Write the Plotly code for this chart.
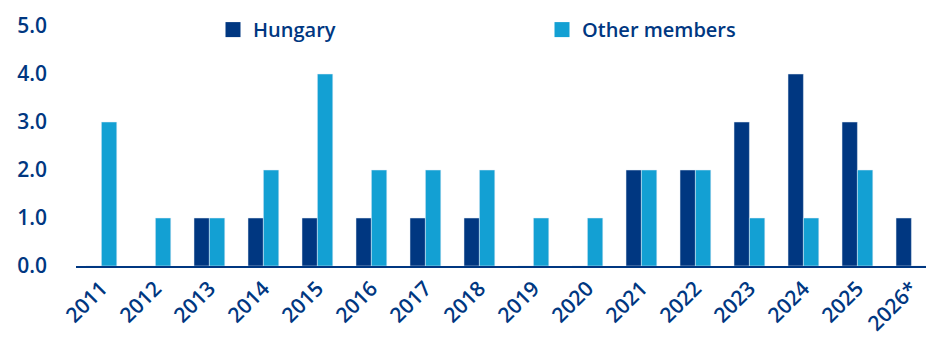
import plotly.graph_objects as go

years = ["2011", "2012", "2013", "2014", "2015", "2016", "2017", "2018",
         "2019", "2020", "2021", "2022", "2023", "2024", "2025", "2026*"]
hungary = [0, 0, 1, 1, 1, 1, 1, 1, 0, 0, 2, 2, 3, 4, 3, 1]
others = [3, 1, 1, 2, 4, 2, 2, 2, 1, 1, 2, 2, 1, 1, 2, 0]

navy = "#003781"
light = "#13A0D3"
font_family = "'Open Sans', sans-serif"

fig = go.Figure()
fig.add_trace(go.Bar(x=years, y=hungary, name="Hungary", marker_color=navy,
                     showlegend=False))
fig.add_trace(go.Bar(x=years, y=others, name="Other members", marker_color=light,
                     showlegend=False))
# legend entries with larger square markers
for name, col in [("Hungary", navy), ("Other members", light)]:
    fig.add_trace(go.Scatter(x=[None], y=[None], mode="markers", name=name,
                             marker=dict(symbol="square", size=15, color=col)))

fig.update_layout(
    width=926, height=339,
    margin=dict(l=76, r=0, t=26, b=73),
    paper_bgcolor="white", plot_bgcolor="white",
    barmode="group", bargap=0.43, bargroupgap=0,
    font=dict(family=font_family, color=navy, size=19, weight=600),
    legend=dict(
        orientation="h", x=(213 - 76) / 850, xanchor="left",
        y=0.985, yanchor="middle",
        entrywidth=284, entrywidthmode="pixels",
        font=dict(size=20, color=navy, weight=600),
        bgcolor="rgba(0,0,0,0)", itemwidth=30,
    ),
    showlegend=True,
)
fig.update_xaxes(
    type="category", range=[-0.47, 15.27],
    tickangle=-45, showgrid=False, showline=True, linecolor=navy, linewidth=2,
    ticks="", tickfont=dict(size=21, color=navy, weight=600),
)
fig.update_yaxes(
    range=[0, 5], tickvals=[0, 1, 2, 3, 4, 5], tickformat=".1f",
    showgrid=False, zeroline=False, showline=False, ticks="",
    ticklabelstandoff=28, tickfont=dict(size=21, color=navy, weight=600),
)

fig.write_html("out.html")
